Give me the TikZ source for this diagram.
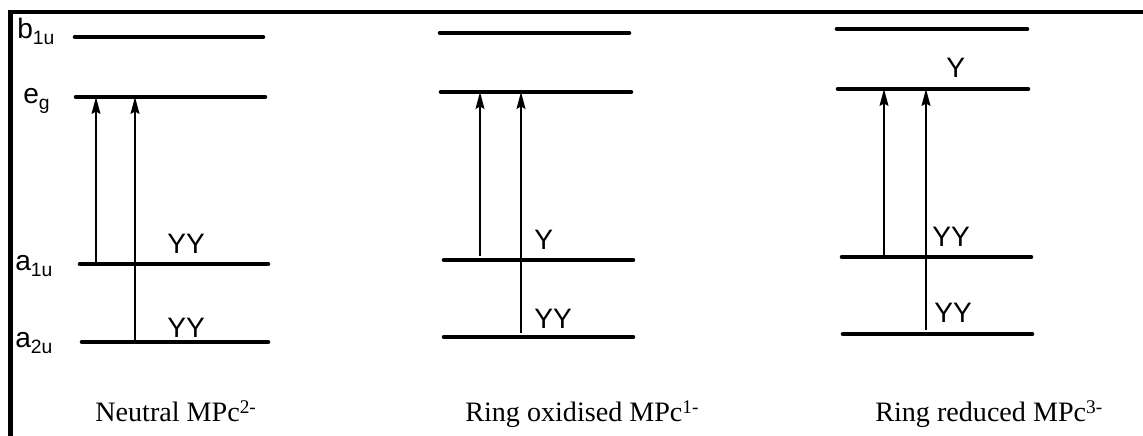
\documentclass[tikz,border=0pt]{standalone}
\usepackage{fontspec}
\setmainfont{Liberation Serif}
\setsansfont{Liberation Sans}
\usetikzlibrary{arrows.meta}

\newcommand{\orbsub}[2]{#1\raisebox{-0.45ex}{\fontsize{11}{12}\selectfont #2}}
\newcommand{\chgsup}[1]{\raisebox{0.55ex}{\fontsize{11}{12}\selectfont #1}}

\tikzset{
  level/.style={line width=2.6pt, line cap=round},
  trans/.style={line width=0.6pt, -{Stealth[length=3.4mm, width=1.8mm, inset=0.5mm]}},
  orb/.style={font=\sffamily\fontsize{16}{18}\selectfont, inner sep=0pt, anchor=base west},
  occ/.style={font=\sffamily\fontsize{16}{18}\selectfont, inner sep=0pt, anchor=base west},
  caption/.style={font=\fontsize{16}{18}\selectfont, inner sep=0pt, anchor=base west},
  frameline/.style={line width=2.3pt}
}

\begin{document}
\begin{tikzpicture}[x=0.02cm, y=-0.02cm]
\useasboundingbox (0,0) rectangle (1143,436);

% frame: top and left side only
\coordinate (fbl) at (10.5,440);
\coordinate (ftl) at (10.5,12);
\coordinate (ftr) at (1145,12);
\draw[frameline] (fbl) -- (ftl) -- (ftr);

% orbital labels
\node[orb] (lb1u) at (17,38)  {\orbsub{b}{1u}};
\node[orb] (leg)  at (23,103) {\orbsub{e}{g}};
\node[orb] (la1u) at (15,270) {\orbsub{a}{1u}};
\node[orb] (la2u) at (15,347) {\orbsub{a}{2u}};

% neutral
\coordinate (nb1l) at (75,37);  \coordinate (nb1r) at (263,37);
\coordinate (negl) at (76,97);  \coordinate (negr) at (265,97);
\coordinate (na1l) at (80,264); \coordinate (na1r) at (268,264);
\coordinate (na2l) at (82,342); \coordinate (na2r) at (268,342);
\draw[level] (nb1l) -- (nb1r);
\draw[level] (negl) -- (negr);
\draw[level] (na1l) -- (na1r);
\draw[level] (na2l) -- (na2r);
\coordinate (nfa) at (96,264);
\coordinate (nfb) at (135,342);
\draw[trans] (nfa) -- (nfa |- negl);
\draw[trans] (nfb) -- (nfb |- negl);
\node[occ] (nocc1) at (167,253) {YY};
\node[occ] (nocc2) at (167,337) {YY};
\node[caption] (ncap) at (95,421) {Neutral MPc\chgsup{2-}};

% ring oxidised
\coordinate (ob1l) at (440,33);  \coordinate (ob1r) at (629,33);
\coordinate (oegl) at (441,92);  \coordinate (oegr) at (631,92);
\coordinate (oa1l) at (444,260); \coordinate (oa1r) at (633,260);
\coordinate (oa2l) at (444,337); \coordinate (oa2r) at (633,337);
\draw[level] (ob1l) -- (ob1r);
\draw[level] (oegl) -- (oegr);
\draw[level] (oa1l) -- (oa1r);
\draw[level] (oa2l) -- (oa2r);
\coordinate (ofa) at (480,256);
\coordinate (ofb) at (521,333);
\draw[trans] (ofa) -- (ofa |- oegl);
\draw[trans] (ofb) -- (ofb |- oegl);
\node[occ] (oocc1) at (534,249) {Y};
\node[occ] (oocc2) at (534,328) {YY};
\node[caption] (ocap) at (465,421) {Ring oxidised MPc\chgsup{1-}};

% ring reduced
\coordinate (rb1l) at (837,29);  \coordinate (rb1r) at (1027,29);
\coordinate (regl) at (838,89);  \coordinate (regr) at (1028,89);
\coordinate (ra1l) at (842,257); \coordinate (ra1r) at (1031,257);
\coordinate (ra2l) at (843,334); \coordinate (ra2r) at (1032,334);
\draw[level] (rb1l) -- (rb1r);
\draw[level] (regl) -- (regr);
\draw[level] (ra1l) -- (ra1r);
\draw[level] (ra2l) -- (ra2r);
\coordinate (rfa) at (884,257);
\coordinate (rfb) at (926,330);
\draw[trans] (rfa) -- (rfa |- regl);
\draw[trans] (rfb) -- (rfb |- regl);
\node[occ] (rocc0) at (946,77)  {Y};
\node[occ] (rocc1) at (932,246) {YY};
\node[occ] (rocc2) at (934,322) {YY};
\node[caption] (rcap) at (875,421) {Ring reduced MPc\chgsup{3-}};
\end{tikzpicture}
\end{document}
